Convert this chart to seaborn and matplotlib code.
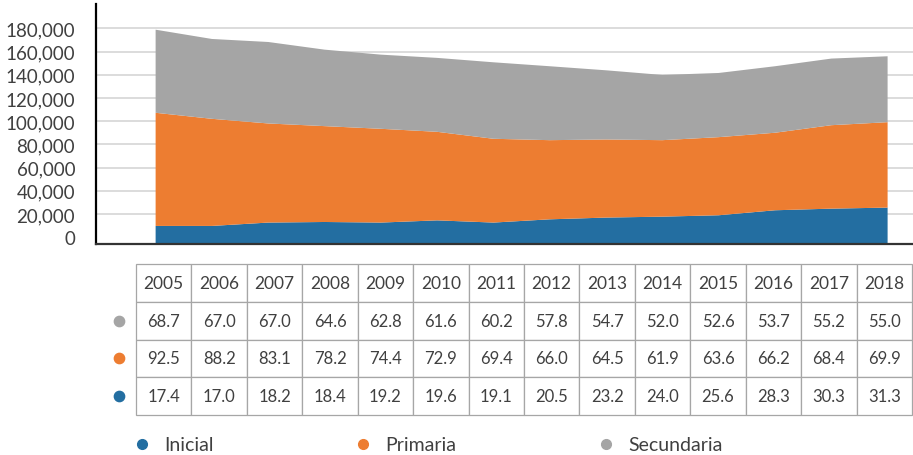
import numpy as np
import pandas as pd
import matplotlib
matplotlib.use("Agg")
import matplotlib.pyplot as plt
from matplotlib.lines import Line2D
import seaborn as sns

## data
years = list(range(2005, 2019))
inicial = [10200, 10200, 13100, 13600, 13100, 15000, 13100, 15900, 17400, 18200, 19400, 23700, 25100, 26000]
primaria = [97500, 92300, 85400, 82600, 80800, 76300, 72200, 68200, 67300, 65900, 67300, 66800, 71900, 73600]
secundaria = [71600, 68800, 70200, 65900, 63900, 63700, 65900, 63700, 59600, 56200, 55300, 57300, 57400, 56800]

# values shown in the table under the chart
tbl_secundaria = [68.7, 67.0, 67.0, 64.6, 62.8, 61.6, 60.2, 57.8, 54.7, 52.0, 52.6, 53.7, 55.2, 55.0]
tbl_primaria = [92.5, 88.2, 83.1, 78.2, 74.4, 72.9, 69.4, 66.0, 64.5, 61.9, 63.6, 66.2, 68.4, 69.9]
tbl_inicial = [17.4, 17.0, 18.2, 18.4, 19.2, 19.6, 19.1, 20.5, 23.2, 24.0, 25.6, 28.3, 30.3, 31.3]

series_names = ["Inicial", "Primaria", "Secundaria"]
colors = ["#236EA1", "#ED7D31", "#A5A5A5"]
text_color = "#404040"

sns.set_theme(style="white")
plt.rcParams["font.family"] = ["Lato", "DejaVu Sans"]

df = pd.DataFrame({"Inicial": inicial, "Primaria": primaria, "Secundaria": secundaria}, index=years)
cum = df.cumsum(axis=1)

fig = plt.figure(figsize=(9.13, 4.56), dpi=100)
W, H = 913, 456

# area chart
ax = fig.add_axes([96 / W, 1 - 245 / H, (W - 96) / W, 240 / H])
ax.set_xlim(2003.95, 2018.46)
ax.set_ylim(-5800, 201000)

bottom = np.full(len(years), ax.get_ylim()[0])
for name, c in zip(series_names, colors):
    ax.fill_between(years, bottom, cum[name].values, color=c, lw=0, zorder=2)
    bottom = cum[name].values

ax.set_yticks(range(0, 180001, 20000))
ax.yaxis.set_major_formatter(matplotlib.ticker.FuncFormatter(lambda v, p: "{:,.0f}".format(v)))
ax.tick_params(axis="y", length=0, pad=15, labelsize=13.5, labelcolor=text_color)
ax.set_xticks([])
ax.yaxis.grid(True, color="#D9D9D9", lw=1.3, zorder=0)
ax.get_ygridlines()[0].set_visible(False)
ax.set_axisbelow(True)
for s in ["top", "right"]:
    ax.spines[s].set_visible(False)
ax.spines["left"].set_color("black")
ax.spines["left"].set_linewidth(1.6)
ax.spines["bottom"].set_color("#333333")
ax.spines["bottom"].set_linewidth(1.6)

# data table
tax = fig.add_axes([136 / W, 1 - 416 / H, (912 - 136) / W, (416 - 265) / H])
tax.axis("off")
cell_text = [["{:.1f}".format(v) for v in row] for row in [tbl_secundaria, tbl_primaria, tbl_inicial]]
tbl = tax.table(cellText=cell_text, colLabels=[str(y) for y in years], cellLoc="center", bbox=[0, 0, 1, 1])
tbl.auto_set_font_size(False)
for (r, c), cell in tbl.get_celld().items():
    cell.set_edgecolor("#A6A6A6")
    cell.set_linewidth(0.9)
    cell.get_text().set_color(text_color)
    cell.get_text().set_fontsize(12.5 if r == 0 else 12)

# coloured dots as row labels
for i, c in enumerate(["#A5A5A5", "#ED7D31", "#236EA1"]):
    tax.scatter(-17 / 776, (2.5 - i) / 4, s=55, color=c, transform=tax.transAxes, clip_on=False)

# legend
handles = [Line2D([], [], ls="", marker="o", ms=7, color=c) for c in colors]
fig.legend(handles, series_names, loc="center left", bbox_to_anchor=(124 / W, 1 - 446 / H),
           ncol=3, frameon=False, fontsize=14, handlelength=0.8, handletextpad=0.75,
           columnspacing=7.3, borderpad=0, labelcolor=text_color)

plt.savefig("out.png", dpi=100)
